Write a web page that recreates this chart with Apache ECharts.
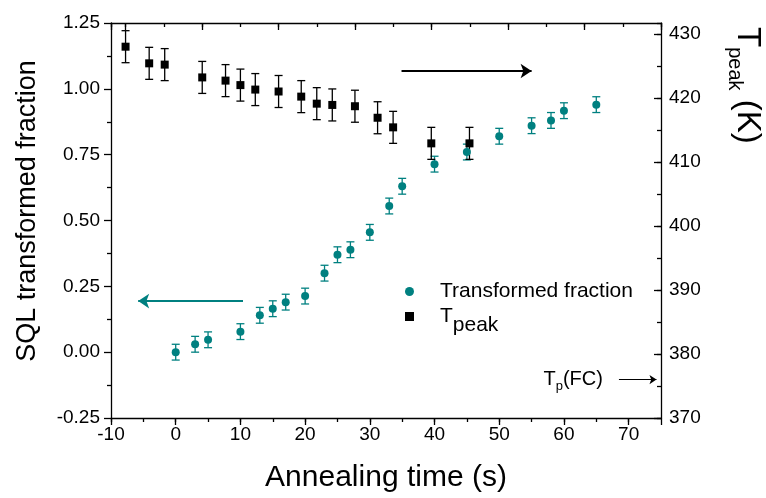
<!DOCTYPE html>
<html>
<head>
<meta charset="utf-8">
<script src="https://cdn.jsdelivr.net/npm/echarts@6/dist/echarts.min.js"></script>
<style>
  html, body { margin: 0; padding: 0; background: #fff; }
  #chart { width: 766px; height: 498px; }
</style>
</head>
<body>
<div id="chart"></div>
<script>
// Transformed SQL fraction versus annealing time (left axis)
const fractionTime  = [0, 3, 5, 10, 13, 15, 17, 20, 23, 25, 27, 30, 33, 35, 40, 45, 50, 55, 58, 60, 65];
const fractionValue = [0.00, 0.03, 0.047, 0.078, 0.14, 0.165, 0.19, 0.213, 0.30, 0.37, 0.389,
                       0.455, 0.555, 0.63, 0.714, 0.76, 0.82, 0.86, 0.88, 0.917, 0.94];
const fractionError = 0.03;

// Peak temperature versus annealing time (right axis, K)
const peakTime  = [-7.75, -4.1, -1.7, 4.1, 7.7, 10, 12.3, 15.9, 19.4, 21.8, 24.2, 27.7, 31.2, 33.6, 39.5, 45.4];
const peakTemp  = [428.0, 425.4, 425.2, 423.2, 422.7, 422.0, 421.3, 421.0, 420.2, 419.1, 418.9,
                   418.7, 416.9, 415.4, 412.9, 412.9];
const peakError = 2.5;

// Peak temperature of the field-cooled reference
const fcTemp = 376;

// Axis ranges
const timeRange = [-10, 75];
const fractionRange = [-0.25, 1.25];
const tempRange = [370, 431.7];
const topRange = [0, 7.19];

const FONT = 'Liberation Sans, Arial, sans-serif';
const TEAL = '#008080';
const BLACK = '#000000';

const fractionPoints = fractionTime.map((t, i) => [t, fractionValue[i]]);
const fractionBars = fractionTime.map((t, i) => [t, fractionValue[i] - fractionError, fractionValue[i] + fractionError]);
const peakPoints = peakTime.map((t, i) => [t, peakTemp[i]]);
const peakBars = peakTime.map((t, i) => [t, peakTemp[i] - peakError, peakTemp[i] + peakError]);

function errorBarRenderer(color) {
  return function (params, api) {
    const x = api.value(0);
    const hi = api.coord([x, api.value(2)]);
    const lo = api.coord([x, api.value(1)]);
    const half = 4;
    const style = { stroke: color, lineWidth: 1.3, fill: null };
    return {
      type: 'group',
      children: [
        { type: 'line', shape: { x1: hi[0], y1: hi[1], x2: lo[0], y2: lo[1] }, style },
        { type: 'line', shape: { x1: hi[0] - half, y1: hi[1], x2: hi[0] + half, y2: hi[1] }, style },
        { type: 'line', shape: { x1: lo[0] - half, y1: lo[1], x2: lo[0] + half, y2: lo[1] }, style }
      ]
    };
  };
}

const axisLine = { show: true, onZero: false, lineStyle: { color: BLACK, width: 1.3 } };
const noLine = { show: false, onZero: false };
const tickStyle = { color: BLACK, width: 1.3 };
const labelStyle = { color: BLACK, fontSize: 19, fontFamily: FONT };

const chart = echarts.init(document.getElementById('chart'), null, { renderer: 'canvas' });

chart.setOption({
  animation: false,
  backgroundColor: '#fff',
  textStyle: { fontFamily: FONT },
  grid: { left: 111, right: 105, top: 23, bottom: 74, containLabel: false },
  xAxis: [
    { // bottom axis: 5 s minor ticks and labels every 10 s
      type: 'value', position: 'bottom', min: timeRange[0], max: timeRange[1], interval: 5,
      axisLine, splitLine: { show: false },
      axisTick: { show: true, inside: false, length: 4, lineStyle: tickStyle },
      axisLabel: Object.assign({ margin: 7, showMaxLabel: false,
        formatter: v => (v % 10 === 0 ? String(v) : '') }, labelStyle),
      name: 'Annealing time (s)', nameLocation: 'middle', nameGap: 45,
      nameTextStyle: { color: BLACK, fontSize: 30, fontFamily: FONT }
    },
    { // bottom axis: long ticks every 10 s
      type: 'value', position: 'bottom', min: timeRange[0], max: timeRange[1], interval: 10,
      axisLine: noLine, splitLine: { show: false },
      axisTick: { show: true, inside: false, length: 7, lineStyle: tickStyle },
      axisLabel: { show: false }
    },
    { // top frame with its own tick spacing
      type: 'value', position: 'top', inverse: true, min: topRange[0], max: topRange[1], interval: 1,
      axisLine, splitLine: { show: false },
      axisTick: { show: true, inside: true, length: 7, lineStyle: tickStyle },
      axisLabel: { show: false }
    },
    {
      type: 'value', position: 'top', inverse: true, min: topRange[0], max: topRange[1], interval: 0.5,
      axisLine: noLine, splitLine: { show: false },
      axisTick: { show: true, inside: true, length: 4, lineStyle: tickStyle },
      axisLabel: { show: false }
    }
  ],
  yAxis: [
    { // transformed fraction
      type: 'value', position: 'left', min: fractionRange[0], max: fractionRange[1], interval: 0.25,
      axisLine, splitLine: { show: false },
      axisTick: { show: true, inside: false, length: 7, lineStyle: tickStyle },
      minorTick: { show: true, splitNumber: 2, length: 4, lineStyle: tickStyle },
      minorSplitLine: { show: false },
      axisLabel: Object.assign({ margin: 11, formatter: v => v.toFixed(2) }, labelStyle)
    },
    { // peak temperature
      type: 'value', position: 'right', min: tempRange[0], max: tempRange[1], interval: 10,
      axisLine, splitLine: { show: false },
      axisTick: { show: true, inside: true, length: 7, lineStyle: tickStyle },
      axisLabel: Object.assign({ margin: 8, showMaxLabel: false }, labelStyle)
    },
    {
      type: 'value', position: 'right', min: tempRange[0], max: tempRange[1], interval: 5,
      axisLine: noLine, splitLine: { show: false },
      axisTick: { show: true, inside: true, length: 4, lineStyle: tickStyle },
      axisLabel: { show: false }
    }
  ],
  legend: {
    orient: 'vertical', left: 400, top: 276, itemWidth: 9, itemHeight: 9, itemGap: 4,
    selectedMode: false,
    data: [
      { name: 'Transformed fraction', icon: 'circle' },
      { name: 'Tpeak', icon: 'rect' }
    ],
    formatter: n => (n === 'Tpeak' ? '{t|T}{s|peak}' : '{t|' + n + '}'),
    textStyle: {
      color: BLACK, fontSize: 21, fontFamily: FONT,
      rich: {
        t: { fontSize: 21, fontFamily: FONT, color: BLACK, padding: [0, 0, 0, 21] },
        s: { fontSize: 21, fontFamily: FONT, color: BLACK, padding: [18, 0, 0, 0] }
      }
    }
  },
  series: [
    {
      name: 'fraction error', type: 'custom', xAxisIndex: 0, yAxisIndex: 0,
      renderItem: errorBarRenderer(TEAL), encode: { x: 0, y: [1, 2] },
      data: fractionBars, silent: true, z: 2
    },
    {
      name: 'Transformed fraction', type: 'scatter', xAxisIndex: 0, yAxisIndex: 0,
      symbol: 'circle', symbolSize: 8, itemStyle: { color: TEAL, opacity: 1 },
      data: fractionPoints, z: 3,
      markLine: {
        silent: true, animation: false, symbol: ['none', 'arrow'], symbolSize: 11,
        lineStyle: { color: TEAL, width: 2.2, type: 'solid' },
        label: { show: false },
        data: [[{ coord: [10.4, 0.194] }, { coord: [-5.8, 0.194] }]]
      }
    },
    {
      name: 'peak error', type: 'custom', xAxisIndex: 0, yAxisIndex: 1,
      renderItem: errorBarRenderer(BLACK), encode: { x: 0, y: [1, 2] },
      data: peakBars, silent: true, z: 2
    },
    {
      name: 'Tpeak', type: 'scatter', xAxisIndex: 0, yAxisIndex: 1,
      symbol: 'rect', symbolSize: 8, itemStyle: { color: BLACK, opacity: 1 },
      data: peakPoints, z: 3,
      markLine: {
        silent: true, animation: false, symbol: ['none', 'arrow'],
        lineStyle: { color: BLACK, width: 2, type: 'solid' },
        label: { show: false },
        data: [
          [{ coord: [34.9, 424.2], symbolSize: 11 }, { coord: [55, 424.2], symbolSize: 11 }],
          [
            {
              coord: [68.5, fcTemp], symbolSize: 7,
              lineStyle: { width: 1.2 },
              label: {
                show: true, position: 'start', distance: 16,
                formatter: '{t|T}{p|p}{t|(FC)}',
                rich: {
                  t: { fontSize: 20, fontFamily: FONT, color: BLACK },
                  p: { fontSize: 13, fontFamily: FONT, color: BLACK, padding: [14, 0, 0, 0] }
                }
              }
            },
            { coord: [74.3, fcTemp], symbolSize: 7 }
          ]
        ]
      }
    }
  ],
  graphic: [
    {
      type: 'text', x: 28, y: 211, rotation: Math.PI / 2,
      style: {
        text: 'SQL transformed fraction', fill: BLACK,
        font: '27px ' + FONT, align: 'center', verticalAlign: 'middle'
      }
    },
    {
      type: 'text', x: 747, y: 27, rotation: -Math.PI / 2,
      style: {
        text: '{t|T}{s|peak}{t| (K)}', align: 'left', verticalAlign: 'middle',
        rich: {
          t: { fontSize: 33, fontFamily: FONT, fill: BLACK },
          s: { fontSize: 20, fontFamily: FONT, fill: BLACK, padding: [24, 0, 0, 0] }
        }
      }
    }
  ]
});
</script>
</body>
</html>
